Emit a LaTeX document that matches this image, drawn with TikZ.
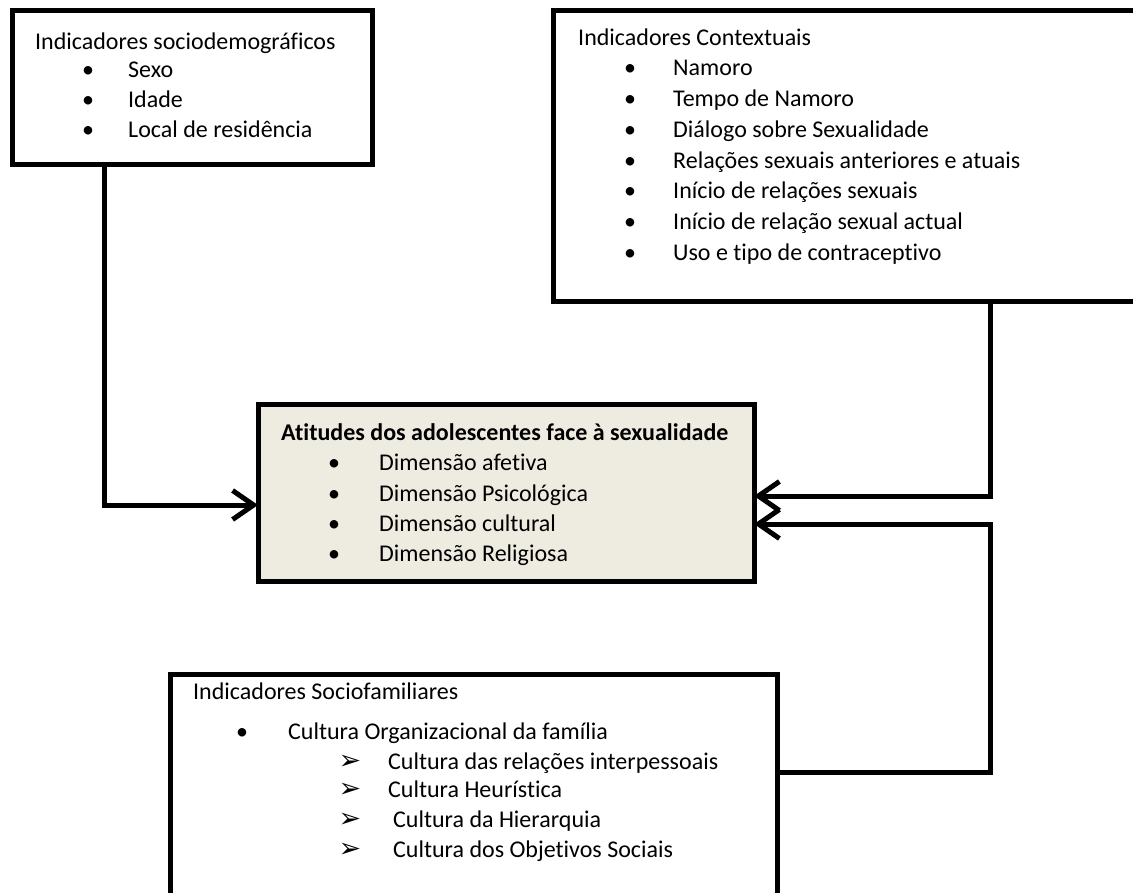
\documentclass[tikz,border=0pt]{standalone}
\usepackage{fontspec}
\setmainfont{Carlito}[Ligatures=NoCommon]
\newfontfamily\djv{DejaVu Sans}
\usetikzlibrary{arrows.meta,calc}
\definecolor{boxfill}{HTML}{EEECE1}
\newcommand\fs{\fontsize{24bp}{28bp}\selectfont}
\begin{document}
\begin{tikzpicture}[x=1bp,y=-1bp,
  box/.style={draw=black, line width=5bp, rectangle, anchor=north west, inner sep=0pt, outer sep=0pt},
  txt/.style={anchor=base west, inner sep=0pt, font=\fs},
  bul/.style={anchor=base, inner sep=0pt, font=\fs},
  arbul/.style={anchor=base, inner sep=0pt, font=\djv\fontsize{27bp}{30bp}\selectfont},
  conn/.style={line width=5bp, -{Straight Barb[length=21bp,width=29bp]}},
]
\useasboundingbox (0,0) rectangle (1133,893);
\clip (0,0) rectangle (1133,893);
% boxes
\node[box, minimum width=360bp, minimum height=154bp] (b1) at (12,10) {};
\node[box, minimum width=600bp, minimum height=291bp] (b2) at (553,10) {};
\node[box, fill=boxfill, minimum width=496bp, minimum height=177bp] (c) at (258,404) {};
\node[box, minimum width=607bp, minimum height=240bp] (b4) at (170,674) {};
% box 1 text
\node[txt] (t1) at (35,49) {Indicadores sociodemográficos};
\foreach \y/\t [count=\i] in {77/Sexo,107/Idade,137/Local de residência}{
  \node[bul] (t1b\i) at (88,\y) {•};
  \node[txt] (t1i\i) at (128,\y) {\t};
}
% box 2 text
\node[txt] (t2) at (578,45) {Indicadores Contextuais};
\foreach \y/\t [count=\i] in {75.5/Namoro,106/Tempo de Namoro,137/Diálogo sobre Sexualidade,168/Relações sexuais anteriores e atuais,198.5/Início de relações sexuais,229/Início de relação sexual actual,260/Uso e tipo de contraceptivo}{
  \node[bul] (t2b\i) at (630,\y) {•};
  \node[txt] (t2i\i) at (673,\y) {\t};
}
% central text
\node[txt, font=\fs\bfseries] (t3) at (281,440) {Atitudes dos adolescentes face à sexualidade};
\foreach \y/\t [count=\i] in {470/Dimensão afetiva,501/Dimensão Psicológica,531/Dimensão cultural,561/Dimensão Religiosa}{
  \node[bul] (t3b\i) at (334,\y) {•};
  \node[txt] (t3i\i) at (379,\y) {\t};
}
% box 4 text
\node[txt] (t4) at (193,699) {Indicadores Sociofamiliares};
\node[bul] (t4b) at (242,739) {•};
\node[txt] (t4i) at (288,739) {Cultura Organizacional da família};
\foreach \y/\x/\t [count=\i] in {769/388/Cultura das relações interpessoais,797/388/Cultura Heurística,827/393/Cultura da Hierarquia,857/393/Cultura dos Objetivos Sociais}{
  \node[arbul] (t4a\i) at (350,\y) {➢};
  \node[txt] (t4j\i) at (\x,\y) {\t};
}
% connectors
\draw[conn] ($(b1.south west)+(92,0)$) |- ($(c.west)+(0,12.5)$);
\draw[conn] ($(b2.south west)+(437,0)$) |- ($(c.east)+(0,3.5)$);
\draw[conn] ($(b4.north east)+(0,98)$) -| ($(c.east)+(236,31.5)$) -- ($(c.east)+(0,31.5)$);
\end{tikzpicture}
\end{document}
